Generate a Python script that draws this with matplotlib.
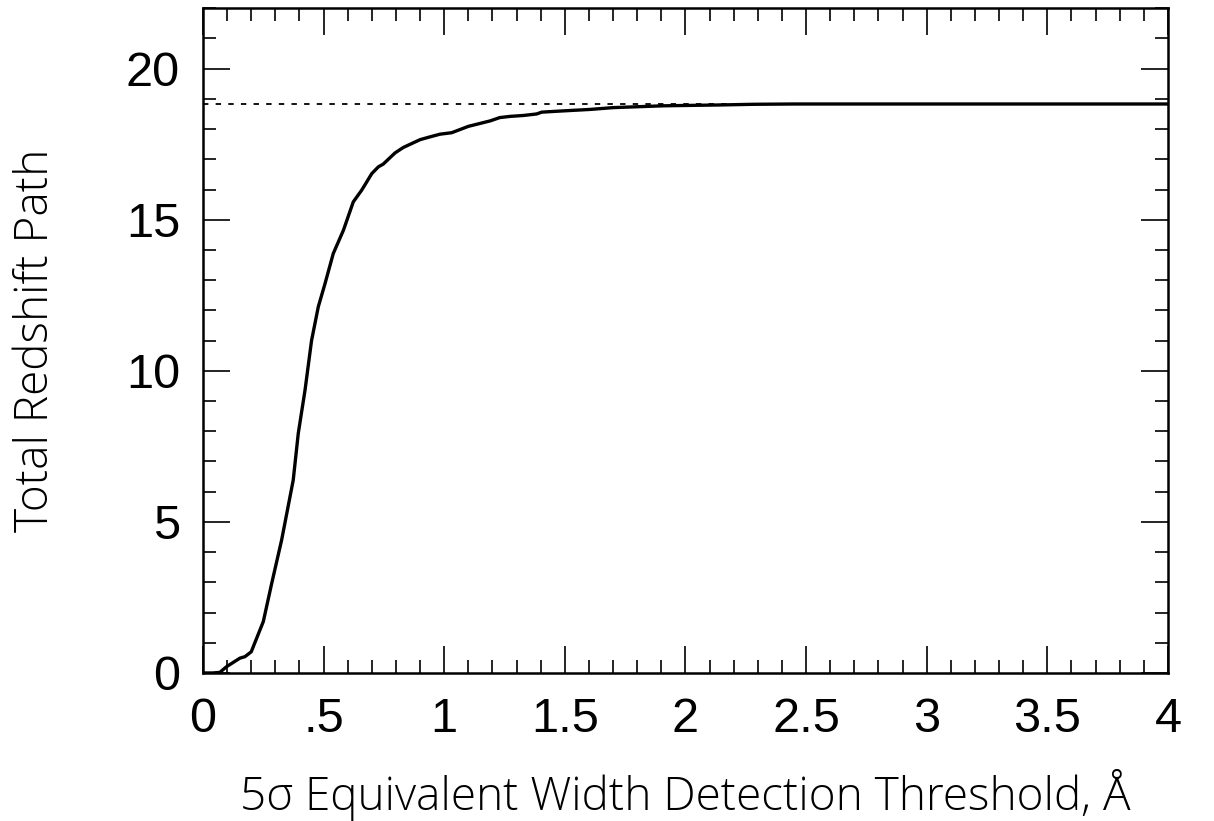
import numpy as np
import matplotlib.pyplot as plt
from matplotlib.ticker import MultipleLocator, FixedLocator, FixedFormatter

# cumulative redshift path vs. 5-sigma equivalent width threshold
ew_threshold = [0.0, 0.04, 0.07, 0.098, 0.153, 0.174, 0.20, 0.25, 0.285, 0.326,
                0.374, 0.395, 0.423, 0.45, 0.478, 0.506, 0.54, 0.582, 0.623,
                0.658, 0.70, 0.727, 0.747, 0.796, 0.83, 0.90, 0.94, 0.982,
                1.031, 1.10, 1.19, 1.23, 1.273, 1.328, 1.383, 1.404, 1.466,
                1.604, 1.70, 1.907, 2.155, 2.28, 2.45, 3.0, 3.5, 4.0]
redshift_path = [0.0, 0.0, 0.02, 0.21, 0.49, 0.54, 0.70, 1.70, 2.97, 4.40,
                 6.38, 7.93, 9.36, 11.0, 12.12, 12.89, 13.88, 14.65, 15.59,
                 15.98, 16.53, 16.75, 16.84, 17.21, 17.39, 17.65, 17.74, 17.83,
                 17.88, 18.09, 18.27, 18.38, 18.42, 18.45, 18.50, 18.56, 18.59,
                 18.65, 18.71, 18.77, 18.80, 18.82, 18.83, 18.83, 18.83, 18.83]
total_path = 18.83

xtick_vals = [0, 0.5, 1, 1.5, 2, 2.5, 3, 3.5, 4]
xtick_labels = ['0', '.5', '1', '1.5', '2', '2.5', '3', '3.5', '4']
ytick_vals = [0, 5, 10, 15, 20]

label_font = dict(family='Open Sans', weight='light', size=33)

fig = plt.figure(figsize=(12.14, 8.21), dpi=100)
ax = fig.add_axes([0.1672, 0.1803, 0.7949, 0.8097])

ax.axhline(total_path, color='black', lw=1.3, ls=(0, (3, 4)))
ax.plot(ew_threshold, redshift_path, color='black', lw=2.4)

ax.set_xlim(0, 4)
ax.set_ylim(0, 22)

ax.xaxis.set_major_locator(FixedLocator(xtick_vals))
ax.xaxis.set_major_formatter(FixedFormatter(xtick_labels))
ax.xaxis.set_minor_locator(MultipleLocator(0.1))
ax.yaxis.set_major_locator(FixedLocator(ytick_vals))
ax.yaxis.set_minor_locator(MultipleLocator(1))

ax.tick_params(which='both', direction='in', top=True, right=True, width=1.2,
               labelsize=35)
ax.tick_params(axis='x', pad=17.5)
ax.tick_params(axis='y', pad=16.5)
ax.tick_params(which='major', length=19.5)
ax.tick_params(which='minor', length=9.7)
for lab in ax.get_xticklabels() + ax.get_yticklabels():
    lab.set_family('Liberation Sans')

for s in ax.spines.values():
    s.set_linewidth(1.8)

ax.set_xlabel('5\u03c3 Equivalent Width Detection Threshold, \u00c5', labelpad=19, **label_font)
ax.set_ylabel('Total Redshift Path', labelpad=48, **label_font)

fig.savefig('out.png', dpi=100)
